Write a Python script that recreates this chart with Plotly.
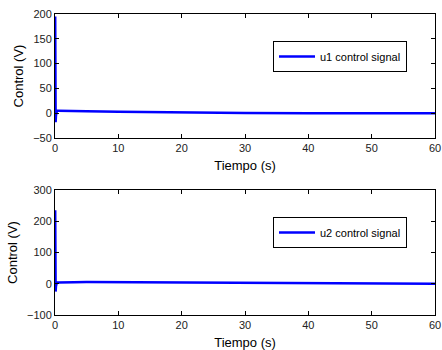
import plotly.graph_objects as go

# Data
t1 = [0, 0.03, 0.06, 0.1, 0.15, 0.2, 0.3, 0.5, 1, 3, 5, 10, 15, 20, 25, 30, 40, 50, 60]
u1 = [0, 195, 100, -18, -5, 3, 5, 5, 5, 4.5, 4, 3, 2, 1.2, 0.6, 0.3, 0.1, 0, 0]
t2 = [0, 0.03, 0.06, 0.1, 0.15, 0.2, 0.3, 0.5, 1, 3, 5, 10, 15, 20, 25, 30, 40, 50, 60]
u2 = [0, 235, 120, -25, -8, 2, 4, 4, 4.5, 5, 5.5, 5, 4, 2.5, 1.5, 0.8, 0.2, 0, 0]

x_ticks = [0, 10, 20, 30, 40, 50, 60]
y1_ticks = [-50, 0, 50, 100, 150, 200]
y2_ticks = [-100, 0, 100, 200, 300]

W, H = 442, 350
FONT = "Liberation Sans, Arial, Helvetica, sans-serif"


def px(x):
    return x / W


def py(y):
    return 1 - y / H


fig = go.Figure()
fig.add_trace(go.Scatter(x=t1, y=u1, mode="lines", name="u1 control signal",
                         line=dict(color="#0000FF", width=2.5),
                         xaxis="x", yaxis="y", legend="legend"))
fig.add_trace(go.Scatter(x=t2, y=u2, mode="lines", name="u2 control signal",
                         line=dict(color="#0000FF", width=2.5),
                         xaxis="x2", yaxis="y2", legend="legend2"))

xd = [px(55), px(435)]
axis_common = dict(showline=True, linecolor="black", linewidth=1, mirror="ticks",
                   ticks="inside", ticklen=4, tickcolor="black", showgrid=False,
                   zeroline=False, tickfont=dict(size=11, color="#222", family=FONT),
                   automargin=False, ticklabeloverflow="allow")

fig.update_layout(
    width=W, height=H,
    margin=dict(l=0, r=0, t=0, b=0),
    paper_bgcolor="white", plot_bgcolor="white",
    font=dict(family=FONT, color="black"),
    xaxis=dict(domain=xd, range=[0, 60], tickvals=x_ticks, anchor="y",
               title=dict(text="Tiempo (s)", font=dict(size=13), standoff=7), **axis_common),
    yaxis=dict(domain=[py(138), py(14)], range=[-50, 200], tickvals=y1_ticks, anchor="x",
               title=dict(text="Control (V)", font=dict(size=13), standoff=6), **axis_common),
    xaxis2=dict(domain=xd, range=[0, 60], tickvals=x_ticks, anchor="y2",
                title=dict(text="Tiempo (s)", font=dict(size=13), standoff=7), **axis_common),
    yaxis2=dict(domain=[py(315), py(190)], range=[-100, 300], tickvals=y2_ticks, anchor="x2",
                title=dict(text="Control (V)", font=dict(size=13), standoff=6), **axis_common),
    legend=dict(x=px(273), y=py(41), xanchor="left", yanchor="top",
                bordercolor="black", borderwidth=1, bgcolor="white",
                font=dict(size=11, family=FONT), itemwidth=36, tracegroupgap=0),
    legend2=dict(x=px(273), y=py(217), xanchor="left", yanchor="top",
                 bordercolor="black", borderwidth=1, bgcolor="white",
                 font=dict(size=11, family=FONT), itemwidth=36, tracegroupgap=0),
    showlegend=True,
)

fig.write_html("out.html", config={"displayModeBar": False},
               post_script="document.body.style.margin='0';document.body.style.overflow='hidden';")
